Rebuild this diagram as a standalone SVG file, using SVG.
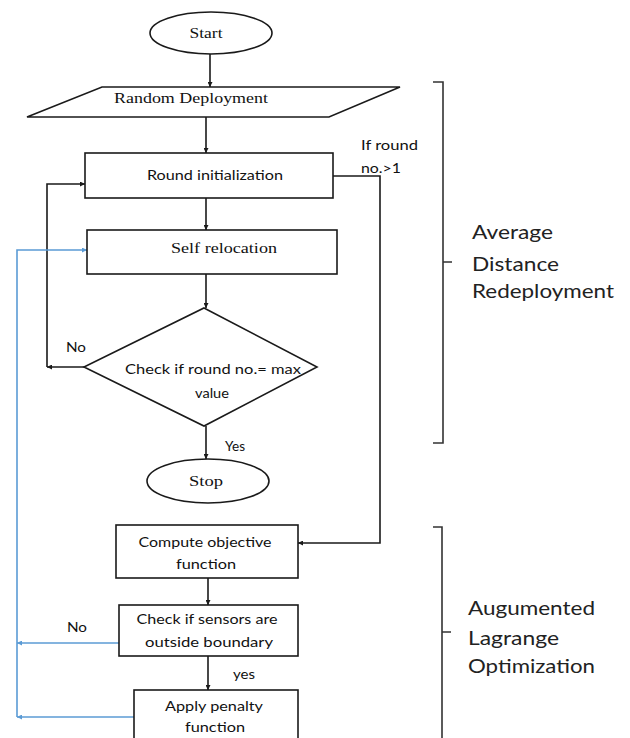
<svg xmlns="http://www.w3.org/2000/svg" width="630" height="738" viewBox="0 0 630 738">
<style>
.shape{fill:#fff;stroke:#1a1a1a;stroke-width:1.6}
.ln{fill:none;stroke:#1a1a1a;stroke-width:1.6}
.bl{fill:none;stroke:#5b9bd5;stroke-width:1.6}
.br{fill:none;stroke:#333;stroke-width:1.6}
.serif{font-family:"Liberation Serif","Times New Roman",serif;font-size:15px;fill:#111}
.sans{font-family:Lato,"Liberation Sans",sans-serif;font-size:13px;fill:#111}
.big{font-family:Lato,"Liberation Sans",sans-serif;font-size:20px;fill:#222}
</style>
<defs>
<marker id="ah" viewBox="0 0 10 10" refX="10" refY="5" markerWidth="5" markerHeight="5" orient="auto" markerUnits="userSpaceOnUse"><path d="M0,0 L10,5 L0,10 z" fill="#1a1a1a"/></marker>
<marker id="ahb" viewBox="0 0 10 10" refX="10" refY="5" markerWidth="5" markerHeight="5" orient="auto" markerUnits="userSpaceOnUse"><path d="M0,0 L10,5 L0,10 z" fill="#5b9bd5"/></marker>
</defs>
<rect width="630" height="738" fill="#fff"/>

<g id="connectors">
<path class="ln" d="M210,54 V87" marker-end="url(#ah)"/>
<path class="ln" d="M206,117 V153" marker-end="url(#ah)"/>
<path class="ln" d="M206,198 V230" marker-end="url(#ah)"/>
<path class="ln" d="M206,274 V308" marker-end="url(#ah)"/>
<path class="ln" d="M206,426 V459" marker-end="url(#ah)"/>
<path class="ln" d="M84,367 H47" marker-end="url(#ah)"/>
<path class="ln" d="M47,367 V184 H85" marker-end="url(#ah)"/>
<path class="ln" d="M333,176 H380 V543 H298" marker-end="url(#ah)"/>
<path class="ln" d="M208,578 V605" marker-end="url(#ah)"/>
<path class="ln" d="M208,656 V690" marker-end="url(#ah)"/>
<path class="bl" d="M119,643 H17" marker-end="url(#ahb)"/>
<path class="bl" d="M134,717 H17" marker-end="url(#ahb)"/>
<path class="bl" d="M17,717 V250 H87" marker-end="url(#ahb)"/>
<text class="sans" x="76" y="352" text-anchor="middle" textLength="20" lengthAdjust="spacingAndGlyphs">No</text>
<text class="sans" x="235" y="451" text-anchor="middle" textLength="20" lengthAdjust="spacingAndGlyphs">Yes</text>
<text class="sans" x="77" y="632" text-anchor="middle" textLength="20" lengthAdjust="spacingAndGlyphs">No</text>
<text class="sans" x="244" y="679" text-anchor="middle" textLength="22" lengthAdjust="spacingAndGlyphs">yes</text>
<text class="sans" x="361" y="150" textLength="57" lengthAdjust="spacingAndGlyphs">If round</text>
<text class="sans" x="361" y="173" textLength="40" lengthAdjust="spacingAndGlyphs">no.&gt;1</text>
</g>

<g id="start">
<ellipse class="shape" cx="211" cy="33" rx="61" ry="21"/>
<text class="serif" x="206" y="38" text-anchor="middle" textLength="33" lengthAdjust="spacingAndGlyphs">Start</text>
</g>
<g id="random-deployment">
<polygon class="shape" points="102,87 400,87 329,117 27,117"/>
<text class="serif" x="191" y="103" text-anchor="middle" textLength="154" lengthAdjust="spacingAndGlyphs">Random Deployment</text>
</g>
<g id="round-init">
<rect class="shape" x="85" y="153" width="248" height="45"/>
<text class="sans" x="215" y="180" text-anchor="middle" textLength="136" lengthAdjust="spacingAndGlyphs">Round initialization</text>
</g>
<g id="self-relocation">
<rect class="shape" x="87" y="230" width="250" height="44"/>
<text class="serif" x="224" y="253" text-anchor="middle" textLength="106" lengthAdjust="spacingAndGlyphs">Self relocation</text>
</g>
<g id="check-round">
<polygon class="shape" points="204,308 317,367 204,426 84,367"/>
<text class="sans" x="213" y="374" text-anchor="middle" textLength="176" lengthAdjust="spacingAndGlyphs">Check if round no.= max</text>
<text class="sans" x="212" y="398" text-anchor="middle" textLength="34" lengthAdjust="spacingAndGlyphs">value</text>
</g>
<g id="stop">
<ellipse class="shape" cx="208" cy="481" rx="61" ry="22"/>
<text class="serif" x="206" y="486" text-anchor="middle" textLength="34" lengthAdjust="spacingAndGlyphs">Stop</text>
</g>
<g id="compute-objective">
<rect class="shape" x="116" y="525" width="182" height="53"/>
<text class="sans" x="205" y="547" text-anchor="middle" textLength="133" lengthAdjust="spacingAndGlyphs">Compute objective</text>
<text class="sans" x="206" y="569" text-anchor="middle" textLength="60" lengthAdjust="spacingAndGlyphs">function</text>
</g>
<g id="check-sensors">
<rect class="shape" x="119" y="605" width="179" height="51"/>
<text class="sans" x="207" y="624" text-anchor="middle" textLength="141" lengthAdjust="spacingAndGlyphs">Check if sensors are</text>
<text class="sans" x="209" y="647" text-anchor="middle" textLength="128" lengthAdjust="spacingAndGlyphs">outside boundary</text>
</g>
<g id="apply-penalty">
<rect class="shape" x="134" y="690" width="164" height="58"/>
<text class="sans" x="214" y="711" text-anchor="middle" textLength="98" lengthAdjust="spacingAndGlyphs">Apply penalty</text>
<text class="sans" x="215" y="732" text-anchor="middle" textLength="60" lengthAdjust="spacingAndGlyphs">function</text>
</g>

<g id="bracket-adr">
<path class="br" d="M433,82 H443 V443 H433 M443,262 H452"/>
<text class="big" x="472" y="239" textLength="81" lengthAdjust="spacingAndGlyphs">Average</text>
<text class="big" x="472" y="271" textLength="87" lengthAdjust="spacingAndGlyphs">Distance</text>
<text class="big" x="472" y="298" textLength="142" lengthAdjust="spacingAndGlyphs">Redeployment</text>
</g>
<g id="bracket-alo">
<path class="br" d="M433,527 H442 V740 M442,632 H451"/>
<text class="big" x="468" y="615" textLength="127" lengthAdjust="spacingAndGlyphs">Augumented</text>
<text class="big" x="468" y="645" textLength="91" lengthAdjust="spacingAndGlyphs">Lagrange</text>
<text class="big" x="468" y="673" textLength="127" lengthAdjust="spacingAndGlyphs">Optimization</text>
</g>
</svg>
